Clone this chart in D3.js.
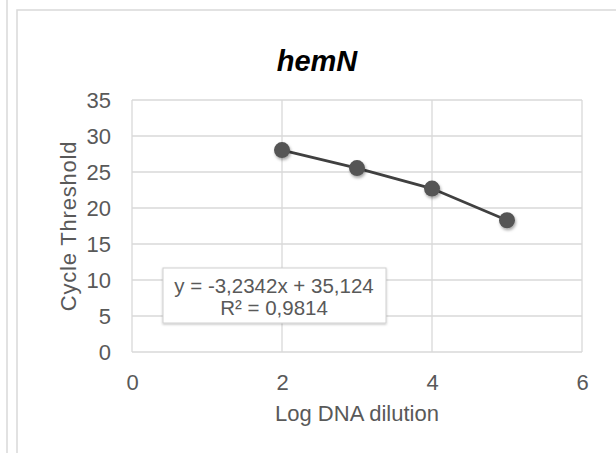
<!DOCTYPE html>
<html>
<head>
<meta charset="utf-8">
<script src="https://cdn.jsdelivr.net/npm/d3@7"></script>
<style>
  body { margin: 0; background: #fff; }
  svg { display: block; font-family: "Liberation Sans", Arial, sans-serif; }
</style>
</head>
<body>
<svg width="616" height="453"></svg>
<script>
// data
const dilutions = [2, 3, 4, 5];
const thresholds = [28.05, 25.55, 22.7, 18.3];
const xTicks = [0, 2, 4, 6];
const yTicks = [0, 5, 10, 15, 20, 25, 30, 35];
const equationLines = ["y = -3,2342x  + 35,124", "R\u00b2 = 0,9814"];

const svg = d3.select("svg");
const margin = { left: 132, right: 34, top: 100, bottom: 101 };
const width = 616, height = 453;

const x = d3.scaleLinear().domain([0, 6]).range([margin.left, width - margin.right]);
const y = d3.scaleLinear().domain([0, 35]).range([height - margin.bottom, margin.top]);

// shadows
const defs = svg.append("defs");
const f = defs.append("filter").attr("id", "shadow")
  .attr("x", "-50%").attr("y", "-50%").attr("width", "200%").attr("height", "200%");
f.append("feDropShadow").attr("dx", 1).attr("dy", 2).attr("stdDeviation", 1.6)
  .attr("flood-color", "#000").attr("flood-opacity", 0.35);
const fb = defs.append("filter").attr("id", "boxshadow")
  .attr("x", "-10%").attr("y", "-20%").attr("width", "120%").attr("height", "150%");
fb.append("feDropShadow").attr("dx", 0).attr("dy", 1).attr("stdDeviation", 1.2)
  .attr("flood-color", "#000").attr("flood-opacity", 0.25);

// panel frames
svg.append("line").attr("x1", 7).attr("x2", 7).attr("y1", 0).attr("y2", height)
  .attr("stroke", "#d9d9d9").attr("stroke-width", 1.5);
svg.append("path").attr("d", `M17,${height}V10H${width}`)
  .attr("fill", "none").attr("stroke", "#d9d9d9").attr("stroke-width", 1.5);

// gridlines
const grid = svg.append("g").attr("stroke", "#d9d9d9").attr("stroke-width", 1.3);
grid.selectAll(".h").data(yTicks).enter().append("line")
  .attr("x1", x(0)).attr("x2", x(6))
  .attr("y1", d => y(d)).attr("y2", d => y(d));
grid.selectAll(".v").data(xTicks).enter().append("line")
  .attr("y1", y(0)).attr("y2", y(35))
  .attr("x1", d => x(d)).attr("x2", d => x(d));

// axes labels
const yAxis = svg.append("g").attr("transform", `translate(${x(0)},0)`)
  .call(d3.axisLeft(y).tickValues(yTicks).tickFormat(d3.format("d")).tickSize(0).tickPadding(21));
yAxis.select(".domain").remove();
yAxis.selectAll("text").attr("fill", "#595959").style("font-size", "22px")
  .attr("dy", "0.36em");

const xAxis = svg.append("g").attr("transform", `translate(0,${y(0)})`)
  .call(d3.axisBottom(x).tickValues(xTicks).tickFormat(d3.format("d")).tickSize(0).tickPadding(0));
xAxis.select(".domain").remove();
xAxis.selectAll("text").attr("fill", "#595959").style("font-size", "22px")
  .attr("y", 38).attr("dy", 0);

// titles
svg.append("text").attr("x", 317).attr("y", 71).attr("text-anchor", "middle")
  .style("font-size", "29px").style("font-weight", "bold").style("font-style", "italic")
  .attr("fill", "#000").text("hemN");

svg.append("text").attr("x", (x(0) + x(6)) / 2).attr("y", 421).attr("text-anchor", "middle")
  .style("font-size", "22px").attr("fill", "#595959").text("Log DNA dilution");

svg.append("text")
  .attr("transform", `translate(76,${(y(0) + y(35)) / 2}) rotate(-90)`)
  .attr("text-anchor", "middle")
  .style("font-size", "22px").style("letter-spacing", "0.8px")
  .attr("fill", "#595959").text("Cycle Threshold");

// series
const pts = dilutions.map((d, i) => [d, thresholds[i]]);
svg.append("path").datum(pts)
  .attr("d", d3.line().x(d => x(d[0])).y(d => y(d[1])))
  .attr("fill", "none").attr("stroke", "#404040").attr("stroke-width", 2.8);

svg.selectAll("circle.pt").data(pts).enter().append("circle")
  .attr("class", "pt")
  .attr("cx", d => x(d[0])).attr("cy", d => y(d[1])).attr("r", 8)
  .attr("fill", "#555").attr("filter", "url(#shadow)");

// equation box
const box = svg.append("g");
box.append("rect").attr("x", 163).attr("y", 268).attr("width", 223).attr("height", 55)
  .attr("fill", "#fff").attr("stroke", "#d0d0d0").attr("stroke-width", 1)
  .attr("filter", "url(#boxshadow)");
box.selectAll("text").data(equationLines).enter().append("text")
  .attr("x", 274).attr("y", (d, i) => 293 + i * 22).attr("text-anchor", "middle")
  .style("font-size", "20.5px").attr("fill", "#595959").text(d => d);
</script>
</body>
</html>
